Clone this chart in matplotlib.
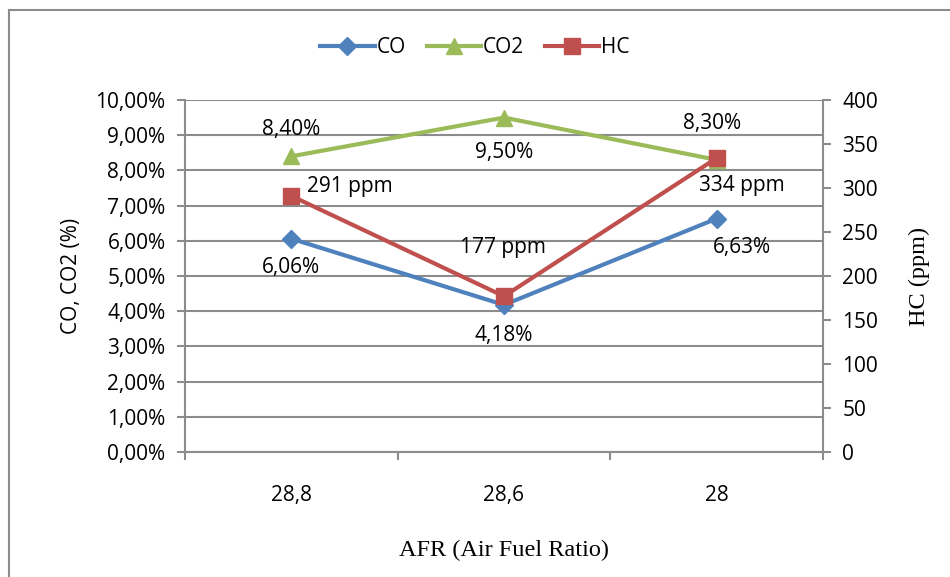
import matplotlib
matplotlib.use('Agg')
import matplotlib.pyplot as plt
from matplotlib.lines import Line2D
from matplotlib.ticker import FuncFormatter, FixedLocator

# data
categories = ['28,8', '28,6', '28']
co = [6.06, 4.18, 6.63]
co2 = [8.40, 9.50, 8.30]
hc = [291, 177, 334]

co_labels = ['6,06%', '4,18%', '6,63%']
co2_labels = ['8,40%', '9,50%', '8,30%']
hc_labels = ['291 ppm', '177 ppm', '334 ppm']

blue = '#4F81BD'
green = '#9BBB59'
red = '#C0504D'
grid = '#8C8C8C'
sans = ['Open Sans', 'DejaVu Sans']
serif = ['Liberation Serif', 'DejaVu Serif']
fs = 15

fig = plt.figure(figsize=(9.5, 5.77), dpi=100)
# outer frame (only top and left are inside the picture)
fig.lines.append(Line2D([0.0095, 0.0095], [0, 0.983], transform=fig.transFigure,
                        color=grid, lw=1.5))
fig.lines.append(Line2D([0.0095, 1], [0.983, 0.983], transform=fig.transFigure,
                        color=grid, lw=1.5))

ax = fig.add_axes([0.1947, 0.2166, 0.6716, 0.6101])
ax2 = ax.twinx()

x = list(range(len(categories)))
l1, = ax.plot(x, co, color=blue, lw=3, marker='D', ms=9, label='CO')
l2, = ax.plot(x, co2, color=green, lw=3, marker='^', ms=12, label='CO2')
l3, = ax2.plot(x, hc, color=red, lw=3, marker='s', ms=11, label='HC')

ax.set_xlim(-0.5, 2.5)
ax.set_ylim(0, 10)
ax2.set_ylim(0, 400)
ax.set_yticks([i for i in range(11)])
ax.yaxis.set_major_formatter(FuncFormatter(lambda v, p: ('%.2f%%' % v).replace('.', ',')))
ax2.set_yticks(range(0, 401, 50))

ax.set_xticks(x)
ax.set_xticklabels(categories)
ax.xaxis.set_minor_locator(FixedLocator([-0.5, 0.5, 1.5, 2.5]))
ax.tick_params(axis='x', which='major', length=0, pad=24)
ax.tick_params(axis='x', which='minor', length=6, color=grid, width=1.5)
ax.tick_params(axis='y', length=6, color=grid, width=1.5, pad=8)
ax2.tick_params(axis='y', length=6, color=grid, width=1.5, pad=8)
for a in (ax, ax2):
    for lab in a.get_xticklabels() + a.get_yticklabels():
        lab.set_family(sans)
        lab.set_fontsize(fs)

ax.grid(axis='y', color=grid, lw=1.5)
ax.set_axisbelow(True)
for a in (ax, ax2):
    a.spines['top'].set_visible(False)
    for s in ('left', 'right', 'bottom'):
        a.spines[s].set_color(grid)
        a.spines[s].set_linewidth(1.5)
ax.spines['right'].set_visible(False)
ax2.spines['left'].set_visible(False)
ax2.spines['bottom'].set_visible(False)

ax.set_ylabel('CO, CO2 (%)', family=sans, fontsize=fs, labelpad=10)
ax2.set_ylabel('HC (ppm)', family=serif, fontsize=17.5, labelpad=22)
ax.set_xlabel('AFR (Air Fuel Ratio)', family=serif, fontsize=17.5, labelpad=24)

# data labels
co_off = [(0, -21), (0, -22), (18, -21)]
for i in x:
    ax.annotate(co_labels[i], (i, co[i]), xytext=co_off[i], textcoords='offset points',
                ha='center', va='center', family=sans, fontsize=fs)
co2_off = [(0, 19), (0, -25), (-3, 26)]
for i in x:
    ax.annotate(co2_labels[i], (i, co2[i]), xytext=co2_off[i], textcoords='offset points',
                ha='center', va='center', family=sans, fontsize=fs)
hc_off = [(42, 7), (-1, 35), (18, -20)]
for i in x:
    ax2.annotate(hc_labels[i], (i, hc[i]), xytext=hc_off[i], textcoords='offset points',
                 ha='center', va='center', family=sans, fontsize=fs)

fig.legend(handles=[l1, l2, l3], loc='center', bbox_to_anchor=(0.5, 0.917), ncol=3,
           frameon=False, prop={'family': sans, 'size': fs}, handlelength=2.6,
           handletextpad=0.1, columnspacing=1.0)

fig.savefig('out.png', dpi=100)
